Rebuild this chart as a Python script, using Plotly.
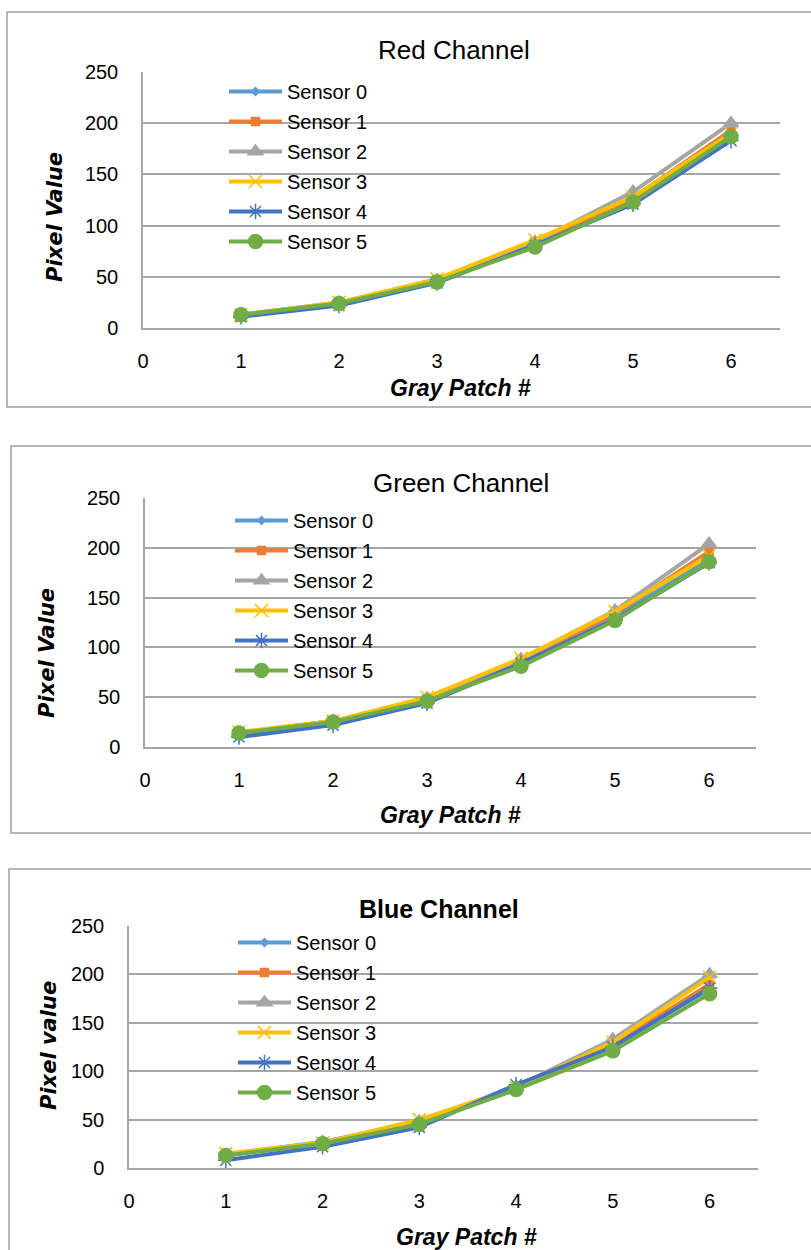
import plotly.graph_objects as go

W, H = 811, 1250

patches = [1, 2, 3, 4, 5, 6]
sensor_names = ["Sensor 0", "Sensor 1", "Sensor 2", "Sensor 3", "Sensor 4", "Sensor 5"]
x_ticks = [0, 1, 2, 3, 4, 5, 6]
y_ticks = [0, 50, 100, 150, 200, 250]

red_s0 = [12, 24, 46, 82, 124, 186]
red_s1 = [13, 24, 47, 84, 127, 193]
red_s2 = [13, 25, 47, 84, 133, 200]
red_s3 = [13, 25, 48, 86, 128, 190]
red_s4 = [11, 22, 44, 81, 121, 183]
red_s5 = [13, 24, 45, 79, 123, 187]

green_s0 = [13, 26, 47, 84, 131, 188]
green_s1 = [14, 26, 48, 87, 134, 196]
green_s2 = [14, 26, 49, 88, 137, 204]
green_s3 = [15, 26, 50, 89, 136, 192]
green_s4 = [10, 22, 44, 84, 128, 185]
green_s5 = [14, 25, 46, 81, 127, 186]

blue_s0 = [14, 27, 45, 85, 126, 185]
blue_s1 = [13, 26, 46, 82, 127, 190]
blue_s2 = [13, 27, 48, 84, 133, 200]
blue_s3 = [15, 26, 50, 83, 130, 197]
blue_s4 = [8, 22, 42, 86, 125, 186]
blue_s5 = [13, 25, 45, 81, 121, 180]

channels = [
    ("Red Channel", "Pixel Value", [red_s0, red_s1, red_s2, red_s3, red_s4, red_s5]),
    ("Green Channel", "Pixel Value", [green_s0, green_s1, green_s2, green_s3, green_s4, green_s5]),
    ("Blue Channel", "Pixel value", [blue_s0, blue_s1, blue_s2, blue_s3, blue_s4, blue_s5]),
]

colors = ["#5B9BD5", "#ED7D31", "#A5A5A5", "#FFC000", "#4472C4", "#70AD47"]
symbols = ["diamond", "square", "triangle-up", "x-thin-open", "asterisk-open", "circle"]
msizes = [6, 8, 13, 13, 13, 14]

# layout geometry (pixels)
panels = [
    dict(plot=(143, 780, 72, 328), border=(7, 12, 407), title_xy=(454, 50), bold=False,
         xt=(460, 388), yt=(55, 217), leg=(224, 72)),
    dict(plot=(145, 756, 498, 747), border=(11, 446, 833), title_xy=(461, 483), bold=False,
         xt=(450, 815), yt=(47, 653), leg=(230, 501)),
    dict(plot=(129, 758, 926, 1168), border=(9, 869, 1255), title_xy=(439, 909), bold=True,
         xt=(466, 1237), yt=(49, 1046), leg=(233, 923)),
]

fx = lambda p: p / W
fy = lambda p: 1 - p / H

GRID = "#A6A6A6"
FONT = "Liberation Sans"

fig = go.Figure()
layout = dict(width=W, height=H, margin=dict(l=0, r=0, t=0, b=0, pad=0, autoexpand=False),
              paper_bgcolor="white", plot_bgcolor="white", showlegend=True,
              annotations=[], shapes=[])

for i, ((title, ytitle, series), p) in enumerate(zip(channels, panels)):
    n = "" if i == 0 else str(i + 1)
    legname = "legend" + n
    for k, (name, vals) in enumerate(zip(sensor_names, series)):
        fig.add_trace(go.Scatter(
            x=patches, y=vals, name=name, mode="lines+markers",
            line=dict(color=colors[k], width=4),
            marker=dict(symbol=symbols[k], size=msizes[k], color=colors[k],
                        line=dict(color=colors[k], width=1.5)),
            xaxis="x" + n, yaxis="y" + n, legend=legname,
            legendgroup=f"g{i}_{k}",
        ))
    l, r, t, b = p["plot"]
    layout["xaxis" + n] = dict(
        domain=[fx(l), fx(r)], range=[0, 6.5], tickvals=x_ticks, anchor="y" + n,
        showgrid=False, zeroline=False, showline=True, linecolor=GRID, linewidth=1.5,
        tickfont=dict(family=FONT, size=20, color="#000"), ticklabelstandoff=14,
        automargin=False,
    )
    layout["yaxis" + n] = dict(
        domain=[fy(b), fy(t)], range=[0, 250], tickvals=y_ticks, anchor="x" + n,
        showgrid=True, gridcolor=GRID, gridwidth=1.5, zeroline=False,
        showline=True, linecolor=GRID, linewidth=1.5,
        tickfont=dict(family=FONT, size=20, color="#000"), ticklabelstandoff=19,
        automargin=False,
    )
    lx, ly = p["leg"]
    layout[legname] = dict(
        x=fx(lx), y=fy(ly), xanchor="left", yanchor="top", xref="paper", yref="paper",
        bgcolor="rgba(0,0,0,0)", borderwidth=0, itemwidth=53, tracegroupgap=1,
        font=dict(family=FONT, size=20, color="#000"),
    )
    bl, bt, bb = p["border"]
    layout["shapes"].append(dict(type="rect", xref="paper", yref="paper",
                                 x0=fx(bl), x1=fx(W + 5), y0=fy(bb), y1=fy(bt),
                                 line=dict(color="#A0A0A0", width=1.5)))
    tx, ty = p["title_xy"]
    ttxt = f"<b>{title}</b>" if p["bold"] else title
    layout["annotations"].append(dict(text=ttxt, x=fx(tx), y=fy(ty), xref="paper", yref="paper",
                                      showarrow=False, xanchor="center", yanchor="middle",
                                      font=dict(family=FONT, size=25 if p["bold"] else 26, color="#000")))
    xx, xy = p["xt"]
    layout["annotations"].append(dict(text="<b><i>Gray Patch #</i></b>", x=fx(xx), y=fy(xy),
                                      xref="paper", yref="paper", showarrow=False,
                                      xanchor="center", yanchor="middle",
                                      font=dict(family=FONT, size=23, color="#000")))
    yx, yy = p["yt"]
    layout["annotations"].append(dict(text=f"<b><i>{ytitle}</i></b>", x=fx(yx), y=fy(yy),
                                      xref="paper", yref="paper", showarrow=False, textangle=-90,
                                      xanchor="center", yanchor="middle",
                                      font=dict(family="DejaVu Sans", size=21, color="#000")))

fig.update_layout(**layout)
fig.write_html("out.html")
